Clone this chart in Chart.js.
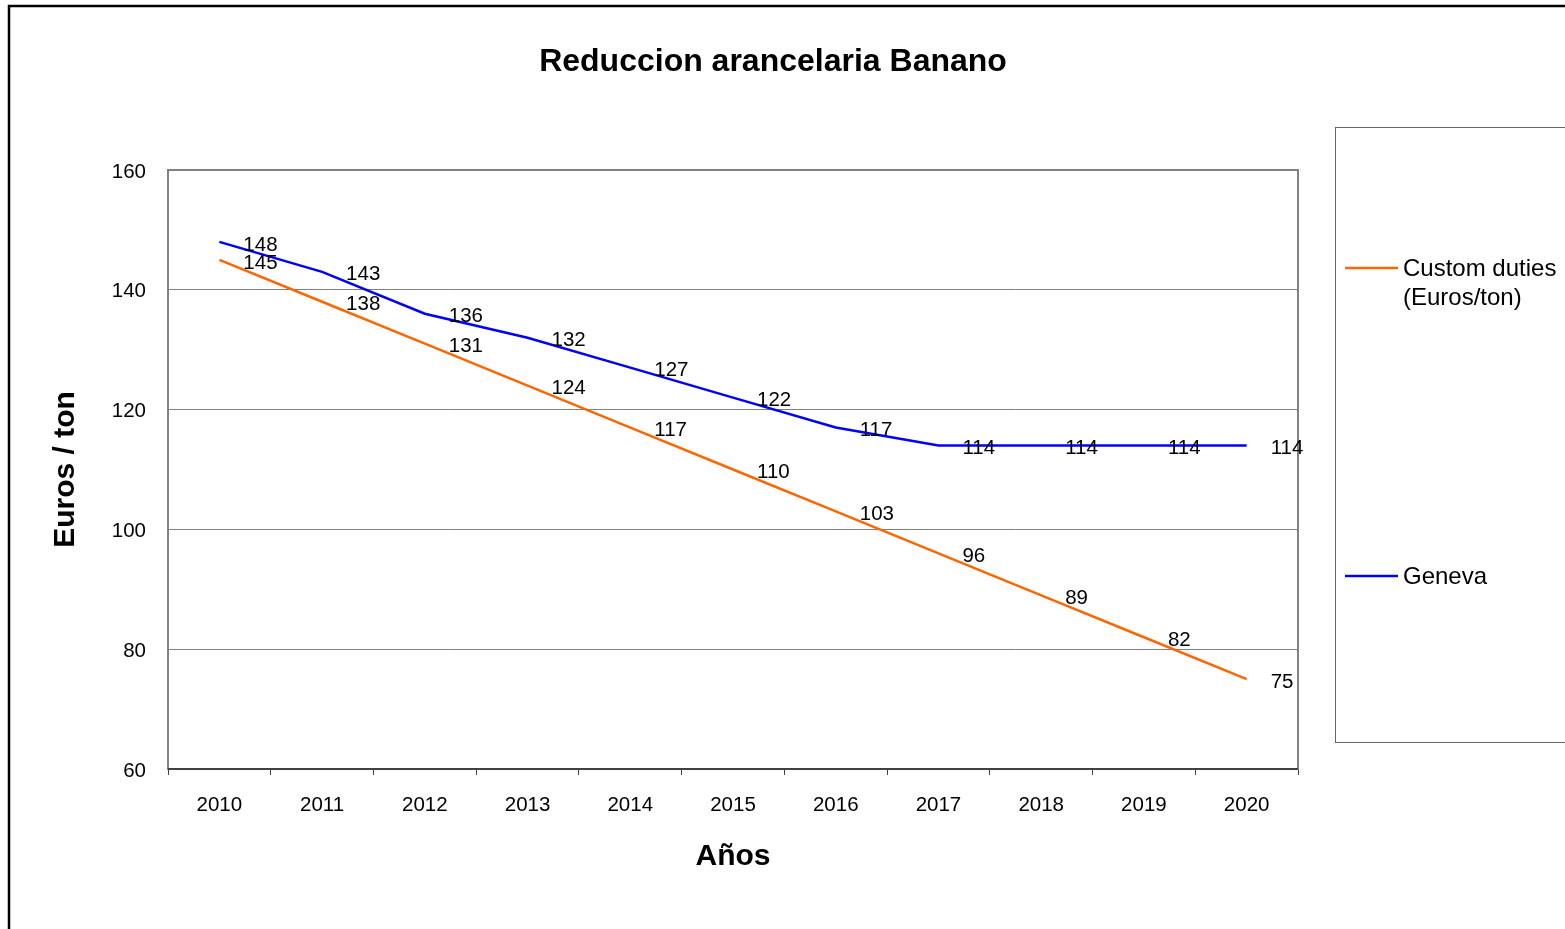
<!DOCTYPE html>
<html>
<head>
<meta charset="utf-8">
<script src="https://cdn.jsdelivr.net/npm/chart.js@4/dist/chart.umd.min.js"></script>
<style>
html,body{margin:0;padding:0;background:#fff;overflow:hidden;}
canvas{display:block;}
</style>
</head>
<body>
<canvas id="c" width="1565" height="929"></canvas>
<script>
const categories = ['2010','2011','2012','2013','2014','2015','2016','2017','2018','2019','2020'];
const customDuties = [145,138,131,124,117,110,103,96,89,82,75];
const geneva = [148,143,136,132,127,122,117,114,114,114,114];
const yTicks = [60,80,100,120,140,160];
const seriesNames = [['Custom duties','(Euros/ton)'], ['Geneva']];
const chartTitle = 'Reduccion arancelaria Banano';
const FONT = '"Liberation Sans", Arial, Helvetica, sans-serif';

const decor = {
  id: 'decor',
  beforeDraw(chart) {
    const ctx = chart.ctx;
    ctx.save();
    ctx.fillStyle = '#fff';
    ctx.fillRect(0, 0, chart.width, chart.height);
    ctx.restore();
  },
  afterDraw(chart) {
    const ctx = chart.ctx;
    const a = chart.chartArea;
    ctx.save();
    // plot border
    ctx.strokeStyle = '#808080';
    ctx.lineWidth = 2;
    ctx.strokeRect(a.left, a.top, a.right - a.left, a.bottom - a.top);
    ctx.strokeStyle = '#404040';
    ctx.beginPath(); ctx.moveTo(a.left, a.bottom); ctx.lineTo(a.right, a.bottom); ctx.stroke();
    // outer border
    ctx.strokeStyle = '#000';
    ctx.lineWidth = 2.5;
    ctx.strokeRect(9, 6, 1700, 1100);
    // title
    ctx.fillStyle = '#000';
    ctx.font = 'bold 32px ' + FONT;
    ctx.textAlign = 'center';
    ctx.textBaseline = 'middle';
    ctx.fillText(chartTitle, 773, 62);
    // data labels
    ctx.font = '20.5px ' + FONT;
    ctx.textAlign = 'left';
    chart.data.datasets.forEach((ds, i) => {
      const meta = chart.getDatasetMeta(i);
      meta.data.forEach((pt, j) => {
        ctx.fillText(String(ds.data[j]), pt.x + 24, pt.y + 3);
      });
    });
    // legend box
    ctx.strokeStyle = '#666';
    ctx.lineWidth = 1;
    ctx.strokeRect(1335.5, 127.5, 400, 615);
    const ys = [268, 576];
    ctx.font = '24px ' + FONT;
    chart.data.datasets.forEach((ds, i) => {
      const y = ys[i];
      ctx.strokeStyle = ds.borderColor;
      ctx.lineWidth = 2.5;
      ctx.beginPath(); ctx.moveTo(1345, y); ctx.lineTo(1398, y); ctx.stroke();
      ctx.fillStyle = '#000';
      seriesNames[i].forEach((t, k) => ctx.fillText(t, 1403, y + 1 + k * 29));
    });
    ctx.restore();
  }
};

new Chart(document.getElementById('c'), {
  type: 'line',
  data: {
    labels: categories,
    datasets: [
      { label: seriesNames[0].join(' '), data: customDuties, borderColor: '#FF6600', backgroundColor: '#FF6600', borderWidth: 2.5, pointRadius: 0, tension: 0, fill: false },
      { label: seriesNames[1].join(' '), data: geneva, borderColor: '#0000FF', backgroundColor: '#0000FF', borderWidth: 2.5, pointRadius: 0, tension: 0, fill: false }
    ]
  },
  options: {
    responsive: false,
    animation: false,
    devicePixelRatio: 1,
    layout: { padding: { top: 170, right: 267, left: 0, bottom: 0 } },
    plugins: { legend: { display: false }, title: { display: false }, tooltip: { enabled: false } },
    scales: {
      x: {
        offset: true,
        grid: { offset: true, drawOnChartArea: false, drawTicks: true, tickLength: 6, color: '#404040', lineWidth: 1 },
        border: { display: false },
        ticks: { color: '#000', font: { family: FONT, size: 20.5 }, padding: 18, maxRotation: 0, autoSkip: false },
        title: { display: true, text: 'Años', color: '#000', font: { family: FONT, size: 30, weight: 'bold' }, padding: { top: 0, bottom: 54 } },
        afterFit(s) { s.height = 160; }
      },
      y: {
        min: 60, max: 160,
        afterBuildTicks(s) { s.ticks = yTicks.map(v => ({ value: v })); },
        grid: { color: '#808080', lineWidth: 1, drawTicks: false },
        border: { display: false },
        ticks: { color: '#000', font: { family: FONT, size: 20.5 }, padding: 22, labelOffset: 2 },
        title: { display: true, text: 'Euros / ton', color: '#000', font: { family: FONT, size: 30, weight: 'bold' }, padding: { top: 48, bottom: 0 } },
        afterFit(s) { s.width = 168; }
      }
    }
  },
  plugins: [decor]
});
</script>
</body>
</html>
